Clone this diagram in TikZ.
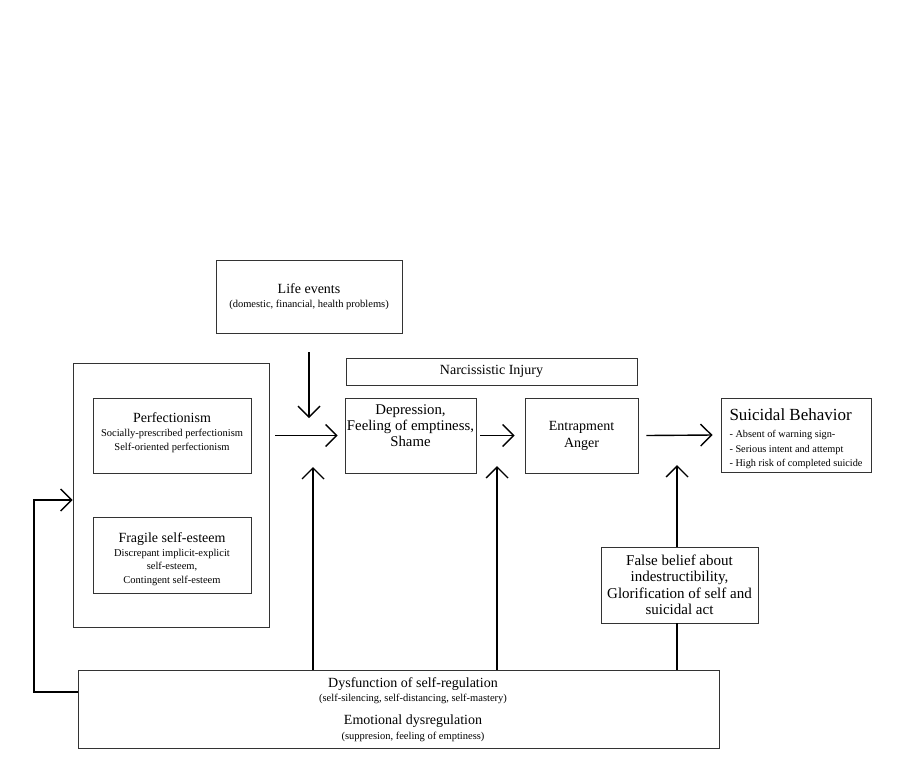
\documentclass[tikz,border=0pt]{standalone}
\usepackage{fontspec}
\setmainfont{Liberation Serif}
\usetikzlibrary{arrows.meta}
\newcommand{\ttl}{\fontsize{14}{15.5}\selectfont}
\newcommand{\sbt}{\fontsize{10.5}{15.5}\selectfont}
\newcommand{\sbs}{\fontsize{10.5}{13.5}\selectfont}
\begin{document}
\begin{tikzpicture}[x=1pt,y=-1pt,
  box/.style={draw=black!80, line width=0.9pt, inner sep=0pt, align=center, font=\ttl},
  conn/.style={line width=1.4pt, -{Straight Barb[length=11pt,width=22pt,line width=1.4pt]}},
  plainline/.style={line width=1.4pt}]
\useasboundingbox (0,0) rectangle (901,764);

% boxes
\node[box, minimum width=186pt, minimum height=73pt] (life) at (309,296.5)
  {Life events\\[-1pt]{\sbt (domestic, financial, health problems)}};
\node[box, minimum width=196pt, minimum height=264pt] (big) at (171,495) {};
\node[box, minimum width=158pt, minimum height=75pt, font=\sbs] (perf) at (172,435.5)
  {{\ttl Perfectionism}\\[0.5pt]Socially-prescribed perfectionism\\Self-oriented perfectionism\rule[-8pt]{0pt}{8pt}};
\node[box, minimum width=158pt, minimum height=76pt, font=\sbs] (frag) at (172,555)
  {\rule{0pt}{18pt}{\ttl Fragile self-esteem}\\[0.5pt]Discrepant implicit-explicit\\self-esteem,\\Contingent self-esteem};
\node[box, minimum width=291pt, minimum height=27pt] (narc) at (491.5,371.5) {Narcissistic Injury};
\node[box, minimum width=131pt, minimum height=75pt, font=\fontsize{14.8}{16.3}\selectfont] (dep) at (410.5,435.5)
  {Depression,\\Feeling of emptiness,\\Shame\rule[-20pt]{0pt}{20pt}};
\node[box, minimum width=113pt, minimum height=75pt, font=\fontsize{14}{17}\selectfont] (entr) at (581.5,435.5)
  {Entrapment\\Anger};
\node[box, minimum width=150pt, minimum height=74pt, align=left, font=\fontsize{10.3}{14.5}\selectfont] (suic) at (796,435)
  {\rule{0pt}{20pt}{\fontsize{17}{17}\selectfont Suicidal Behavior}\\[2.5pt]- Absent of warning sign-\\- Serious intent and attempt\\- High risk of completed suicide};
\node[box, minimum width=157pt, minimum height=76pt, font=\fontsize{15}{16.5}\selectfont] (false) at (679.5,585)
  {False belief about\\indestructibility,\\Glorification of self and\\suicidal act};
\node[box, minimum width=641pt, minimum height=78pt] (bottom) at (398.5,709) {};
\node[align=center, inner sep=0pt, font=\sbt] (bottomtext) at (413,709.5)
  {{\ttl Dysfunction of self-regulation}\\[-1.5pt](self-silencing, self-distancing, self-mastery)\\[8pt]
   {\ttl Emotional dysregulation}\\[-1pt](suppresion, feeling of emptiness)};

% coordinates for free ends
\coordinate (ld1) at (309,352);
\coordinate (ld2) at (309,418);
\coordinate (up1) at (313,467);
\coordinate (up2) at (497,466);
\coordinate (up3) at (677,465);
\coordinate (fb1) at (34,692);
\coordinate (fbtip) at (73,500);

% connectors
\draw[conn] (ld1) -- (ld2);
\draw[conn] ([xshift=6pt]big.east |- dep.west) -- ([xshift=-7pt]dep.west);
\draw[conn] ([xshift=4pt]dep.east) -- ([xshift=-10pt]entr.west);
\draw[conn] ([xshift=8pt]entr.east) -- ([xshift=-8pt]suic.west);
\draw[conn] (bottom.north -| up1) -- (up1);
\draw[conn] (bottom.north -| up2) -- (up2);
\draw[conn] (false.north -| up3) -- (up3);
\draw[plainline] (bottom.north -| up3) -- (false.south -| up3);
\draw[conn] (bottom.west |- fb1) -- (fb1) |- (big.west |- fbtip);
\end{tikzpicture}
\end{document}
